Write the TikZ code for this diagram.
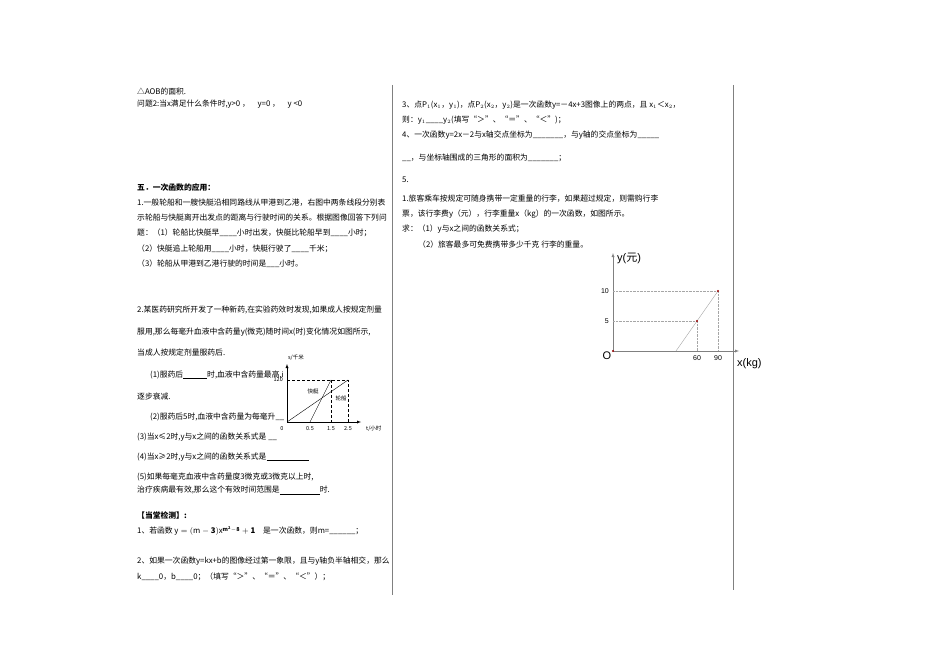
\documentclass[tikz,border=0pt]{standalone}
\usepackage{fontspec}
\setmainfont{Noto Sans CJK SC}
\newfontfamily\lat{Liberation Sans}
\newfontfamily\cjkf{Noto Sans CJK SC}
\begin{document}
\begin{tikzpicture}[x=1pt,y=-1pt,
 t/.style={anchor=west,inner sep=0pt,font=\fontsize{7.8}{9}\selectfont},
 b/.style={t,font=\fontsize{7.8}{9}\selectfont\bfseries},
 sm/.style={inner sep=0pt,font=\fontsize{5.5}{6}\selectfont},
 gl/.style={inner sep=0pt,font=\lat\fontsize{7}{8}\selectfont},
 dot/.style={densely dotted,gray!70}]
\useasboundingbox (0,0) rectangle (950,671);
\draw[gray] (392,85) -- (392,595);
\draw[gray] (733,85) -- (733,590);
\node[t] (a1) at (137,92) {△AOB的面积.};
\node[t] (a2) at (137,104) {问题2:当x满足什么条件时,y>0 ，\quad y=0 ，\quad y <0};
\node[b] (a3) at (137,188) {五．一次函数的应用：};
\node[t] (a4) at (137,203) {1.一般轮船和一艘快艇沿相同路线从甲港到乙港，右图中两条线段分别表};
\node[t] (a5) at (137,218) {示轮船与快艇离开出发点的距离与行驶时间的关系。根据图像回答下列问};
\node[t] (a6) at (137,233) {题：（1）轮船比快艇早\_\_\_\_小时出发，快艇比轮船早到\_\_\_\_小时；};
\node[t] (a7) at (137,249) {（2）快艇追上轮船用\_\_\_\_小时，快艇行驶了\_\_\_\_千米；};
\node[t] (a8) at (137,264) {（3）轮船从甲港到乙港行驶的时间是\_\_\_小时。};
\node[t] (b1) at (137,310) {2.某医药研究所开发了一种新药,在实验药效时发现,如果成人按规定剂量};
\node[t] (b2) at (137,332) {服用,那么每毫升血液中含药量\textit{y}(微克)随时间\textit{x}(时)变化情况如图所示,};
\node[t] (b3) at (137,353) {当成人按规定剂量服药后.};
\node[t] (b4) at (150,375) {(1)服药后\underline{\hspace{24pt}}时,血液中含药量最高,i};
\node[t] (b5) at (137,397) {逐步衰减.};
\node[t] (b6) at (150,417) {(2)服药后5时,血液中含药量为每毫升\_\_};
\node[t] (b7) at (137,437) {(3)当\textit{x}≤2时,\textit{y}与\textit{x}之间的函数关系式是 \_\_};
\node[t] (b8) at (137,457) {(4)当\textit{x}≥2时,\textit{y}与\textit{x}之间的函数关系式是\underline{\hspace{42pt}}};
\node[t] (b9) at (137,477) {(5)如果每毫克血液中含药量度3微克或3微克以上时,};
\node[t] (b10) at (137,490) {治疗疾病最有效,那么这个有效时间范围是\underline{\hspace{40pt}}时.};
\node[b] (c1) at (137,515) {【当堂检测】:};
\node[t] (c2) at (137,531) {1、若函数 $\mathbf{\mathit{y}=(\mathit{m}-3)\mathit{x}^{m^2-8}+1}$\quad 是一次函数，则\textit{m}=\_\_\_\_\_\_；};
\node[t] (c3) at (137,561) {2、如果一次函数\textit{y}=\textit{kx}+\textit{b}的图像经过第一象限，且与\textit{y}轴负半轴相交，那么};
\node[t] (c4) at (137,577) {\textit{k}\_\_\_\_0，\textit{b}\_\_\_\_0；（填写“＞”、“＝”、“＜”）；};
% small graph
\coordinate (o1) at (287,422);
\draw[-latex] (o1) -- (287,364);
\draw[-latex] (o1) -- (361,422);
\draw[densely dashed] (287,380) -- (348,380) -- (348,422);
\draw[densely dashed] (331,380) -- (331,422);
\draw (o1) -- (348,380);
\draw (310,422) -- (331,380);
\node[sm] (l0) at (282,429) {0};
\node[sm] (l1) at (310,429) {0.5};
\node[sm] (l2) at (331,429) {1.5};
\node[sm] (l3) at (348,429) {2.5};
\node[sm,anchor=east] (l4) at (283,380) {120};
\node[sm] (l5) at (296,358) {s/千米};
\node[sm,anchor=west] (l6) at (366,429) {t/小时};
\node[sm] (l7) at (313,391) {快艇};
\node[sm] (l8) at (341,398) {轮船};
% right text
\node[t] (d1) at (402,105) {3、点\textit{P}$_1$(\textit{x}$_1$，\textit{y}$_1$)，点\textit{P}$_2$(\textit{x}$_2$，\textit{y}$_2$)是一次函数\textit{y}=－4\textit{x}+3图像上的两点，且 \textit{x}$_1$＜\textit{x}$_2$，};
\node[t] (d2) at (402,120) {则：\textit{y}$_1$\_\_\_\_\textit{y}$_2$(填写“＞”、“＝”、“＜”)；};
\node[t] (d3) at (402,135) {4、一次函数\textit{y}=2\textit{x}－2与\textit{x}轴交点坐标为\_\_\_\_\_\_\_，与\textit{y}轴的交点坐标为\_\_\_\_\_};
\node[t] (d4) at (402,158) {\_\_，与坐标轴围成的三角形的面积为\_\_\_\_\_\_\_；};
\node[t] (d5) at (402,180) {5.};
\node[t] (d6) at (402,199) {1.旅客乘车按规定可随身携带一定重量的行李，如果超过规定，则需购行李};
\node[t] (d7) at (402,214) {票，该行李费y（元），行李重量x（kg）的一次函数，如图所示。};
\node[t] (d8) at (402,229) {求：（1）y与x之间的函数关系式；};
\node[t] (d9) at (418,245) {（2）旅客最多可免费携带多少千克 行李的重量。};
% right graph
\coordinate (o2) at (613,351);
\draw[gray,-latex] (o2) -- (613,253);
\draw[gray,-latex] (o2) -- (739,351);
\draw[dot] (613,291) -- (718,291) -- (718,351);
\draw[dot] (613,321) -- (697,321) -- (697,351);
\draw[gray!70] (676,351) -- (718,291);
\fill[red!60!black] (718,291) circle (1.2) (697,321) circle (1.2) (613,351) circle (1.2);
\node[gl,anchor=east] (r10) at (609,291) {10};
\node[gl,anchor=east] (r5) at (609,321) {5};
\node[gl] (r60) at (697,358) {60};
\node[gl] (r90) at (718,358) {90};
\node[inner sep=0pt,anchor=west,font=\lat\fontsize{11}{12}\selectfont] (ry) at (617,258) {y({\cjkf 元})};
\node[inner sep=0pt,font=\lat\fontsize{11}{12}\selectfont] (ro) at (607,356) {O};
\node[inner sep=0pt,anchor=west,font=\lat\fontsize{11}{12}\selectfont] (rx) at (737,364) {x(kg)};
\end{tikzpicture}
\end{document}
